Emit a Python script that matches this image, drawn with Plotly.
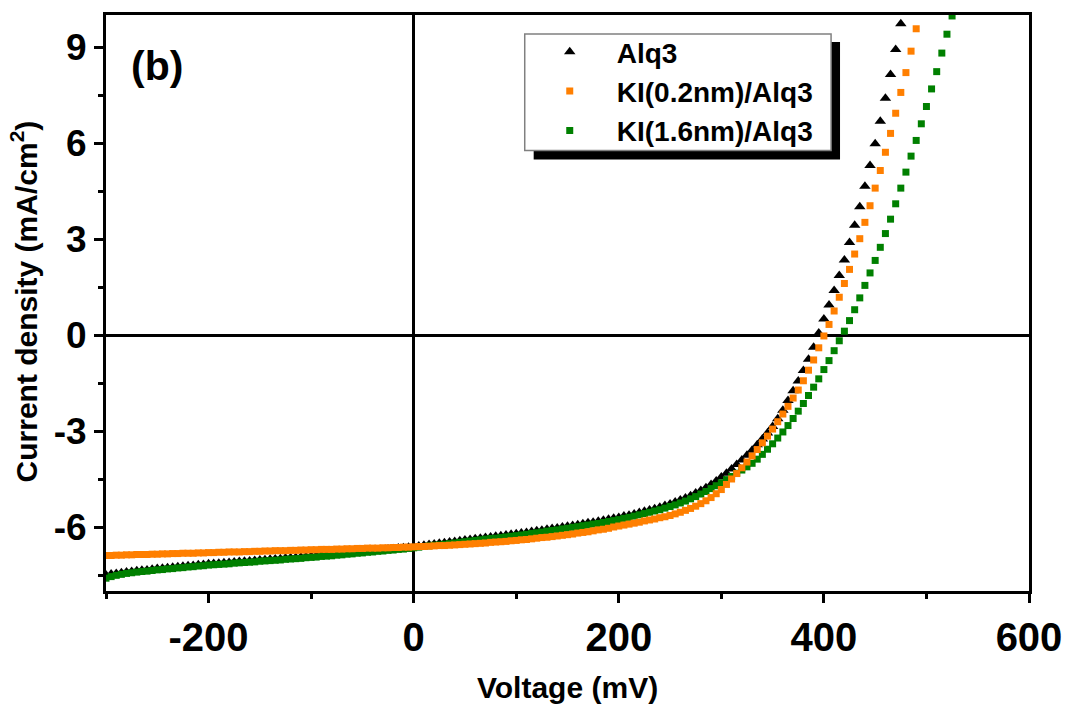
import plotly.graph_objects as go

# ---------------- data ----------------
# voltage sweep in mV (5 mV steps)
V_ALQ3 = list(range(-300, 480, 5))
V_KI02 = list(range(-300, 495, 5))
V_KI16 = list(range(-300, 530, 5))

# current density in mA/cm2
J_ALQ3 = [
    -7.50, -7.47, -7.45, -7.43, -7.41, -7.39, -7.37, -7.35, -7.34, -7.32,   # -300..
    -7.30, -7.29, -7.27, -7.26, -7.24, -7.23, -7.21, -7.20, -7.18, -7.17,   # -250..
    -7.15, -7.14, -7.13, -7.12, -7.11, -7.09, -7.08, -7.07, -7.06, -7.05,   # -200..
    -7.03, -7.02, -7.01, -7.00, -6.99, -6.97, -6.96, -6.95, -6.94, -6.92,   # -150..
    -6.91, -6.90, -6.88, -6.87, -6.86, -6.84, -6.83, -6.81, -6.80, -6.78,   # -100..
    -6.77, -6.75, -6.74, -6.72, -6.71, -6.69, -6.68, -6.66, -6.65, -6.63,   # -50..
    -6.61, -6.59, -6.57, -6.55, -6.53, -6.51, -6.49, -6.47, -6.45, -6.43,   # 0..
    -6.41, -6.39, -6.37, -6.35, -6.33, -6.31, -6.29, -6.27, -6.25, -6.23,   # 50..
    -6.21, -6.19, -6.17, -6.14, -6.12, -6.10, -6.07, -6.05, -6.03, -6.00,   # 100..
    -5.98, -5.95, -5.93, -5.90, -5.87, -5.85, -5.82, -5.79, -5.76, -5.73,   # 150..
    -5.70, -5.66, -5.63, -5.59, -5.55, -5.51, -5.47, -5.43, -5.38, -5.33,   # 200..
    -5.28, -5.22, -5.16, -5.09, -5.02, -4.94, -4.86, -4.77, -4.67, -4.56,   # 250..
    -4.44, -4.32, -4.19, -4.05, -3.91, -3.76, -3.60, -3.43, -3.25, -3.06,   # 300..
    -2.86, -2.62, -2.35, -2.05, -1.74, -1.44, -1.11, -0.76, -0.38, 0.06,    # 350..
    0.50, 0.94, 1.39, 1.86, 2.34, 2.89, 3.43, 4.01, 4.65, 5.30,             # 400..
    5.98, 6.68, 7.40, 8.14, 8.92, 9.73,                                     # 450..475
]

J_KI02 = [
    -6.89, -6.89, -6.88, -6.88, -6.87, -6.87, -6.86, -6.86, -6.86, -6.85,   # -300..
    -6.85, -6.84, -6.84, -6.83, -6.83, -6.82, -6.82, -6.82, -6.81, -6.81,   # -250..
    -6.80, -6.80, -6.79, -6.79, -6.78, -6.78, -6.78, -6.77, -6.77, -6.76,   # -200..
    -6.76, -6.75, -6.75, -6.74, -6.74, -6.74, -6.73, -6.73, -6.72, -6.72,   # -150..
    -6.71, -6.71, -6.70, -6.70, -6.70, -6.69, -6.69, -6.68, -6.68, -6.67,   # -100..
    -6.67, -6.66, -6.66, -6.66, -6.65, -6.65, -6.64, -6.64, -6.63, -6.63,   # -50..
    -6.62, -6.61, -6.61, -6.60, -6.59, -6.58, -6.58, -6.57, -6.56, -6.55,   # 0..
    -6.54, -6.53, -6.52, -6.51, -6.50, -6.48, -6.47, -6.46, -6.45, -6.43,   # 50..
    -6.42, -6.40, -6.39, -6.37, -6.35, -6.33, -6.32, -6.30, -6.28, -6.26,   # 100..
    -6.24, -6.22, -6.19, -6.17, -6.15, -6.12, -6.09, -6.07, -6.04, -6.00,   # 150..
    -5.97, -5.94, -5.91, -5.88, -5.85, -5.81, -5.78, -5.75, -5.71, -5.68,   # 200..
    -5.64, -5.59, -5.54, -5.48, -5.42, -5.35, -5.27, -5.18, -5.08, -4.96,   # 250..
    -4.83, -4.67, -4.50, -4.33, -4.15, -3.97, -3.78, -3.58, -3.37, -3.16,   # 300..
    -2.94, -2.71, -2.47, -2.23, -1.97, -1.72, -1.43, -1.10, -0.78, -0.40,   # 350..
    -0.03, 0.33, 0.75, 1.18, 1.61, 2.05, 2.53, 3.01, 3.52, 4.04,            # 400..
    4.59, 5.14, 5.71, 6.30, 6.93, 7.58, 8.20, 8.87, 9.57,                   # 450..490
]

J_KI16 = [
    -7.60, -7.55, -7.51, -7.48, -7.45, -7.43, -7.41, -7.39, -7.38, -7.36,   # -300..
    -7.34, -7.33, -7.31, -7.30, -7.28, -7.27, -7.25, -7.24, -7.22, -7.21,   # -250..
    -7.19, -7.18, -7.17, -7.16, -7.15, -7.13, -7.12, -7.11, -7.10, -7.09,   # -200..
    -7.07, -7.06, -7.05, -7.04, -7.03, -7.01, -7.00, -6.99, -6.98, -6.96,   # -150..
    -6.95, -6.94, -6.92, -6.91, -6.90, -6.88, -6.87, -6.85, -6.84, -6.82,   # -100..
    -6.81, -6.79, -6.78, -6.76, -6.75, -6.73, -6.72, -6.70, -6.69, -6.67,   # -50..
    -6.65, -6.63, -6.61, -6.59, -6.57, -6.56, -6.54, -6.52, -6.50, -6.48,   # 0..
    -6.46, -6.44, -6.42, -6.40, -6.38, -6.36, -6.35, -6.33, -6.31, -6.29,   # 50..
    -6.27, -6.25, -6.23, -6.20, -6.18, -6.16, -6.13, -6.11, -6.09, -6.06,   # 100..
    -6.04, -6.01, -5.99, -5.96, -5.94, -5.91, -5.89, -5.86, -5.83, -5.80,   # 150..
    -5.77, -5.73, -5.70, -5.66, -5.62, -5.58, -5.54, -5.50, -5.46, -5.41,   # 200..
    -5.36, -5.31, -5.25, -5.19, -5.12, -5.05, -4.97, -4.89, -4.80, -4.71,   # 250..
    -4.62, -4.52, -4.42, -4.32, -4.22, -4.12, -4.01, -3.88, -3.73, -3.57,   # 300..
    -3.40, -3.22, -3.03, -2.83, -2.61, -2.38, -2.14, -1.89, -1.63, -1.37,   # 350..
    -1.08, -0.80, -0.49, -0.18, 0.12, 0.45, 0.79, 1.16, 1.55, 1.94,         # 400..
    2.33, 2.74, 3.17, 3.62, 4.10, 4.59, 5.09, 5.59, 6.08, 6.60,             # 450..
    7.14, 7.69, 8.23, 8.81, 9.40, 9.97,                                     # 500..525
]

SERIES_NAMES = ["Alq3", "KI(0.2nm)/Alq3", "KI(1.6nm)/Alq3"]

X_TICKS = [-200, 0, 200, 400, 600]
X_TICK_LABELS = ["-200", "0", "200", "400", "600"]
X_MINOR = [-300, -100, 100, 300, 500]
Y_TICKS = [-6, -3, 0, 3, 6, 9]
Y_TICK_LABELS = ["-6", "-3", "0", "3", "6", "9"]
Y_MINOR = [-7.5, -4.5, -1.5, 1.5, 4.5, 7.5]

# ---------------- figure ----------------
BOLD = "Liberation Sans, Arial, sans-serif"

fig = go.Figure()
fig.add_trace(go.Scatter(
    x=V_ALQ3, y=J_ALQ3, mode="markers", name=SERIES_NAMES[0], legendrank=1,
    marker=dict(symbol="triangle-up", size=10, color="black", line=dict(width=0)),
))
fig.add_trace(go.Scatter(
    x=V_KI16, y=J_KI16, mode="markers", name=SERIES_NAMES[2], legendrank=3,
    marker=dict(symbol="square", size=7, color="#008000", line=dict(width=0)),
))
fig.add_trace(go.Scatter(
    x=V_KI02, y=J_KI02, mode="markers", name=SERIES_NAMES[1], legendrank=2,
    marker=dict(symbol="square", size=7, color="#FF7F00", line=dict(width=0)),
))

W, H = 1074, 706
L, R, T, B = 106, 40, 13, 115
PW, PH = W - L - R, H - T - B


def px(xp):
    return (xp - L) / PW


def py(yp):
    return (H - B - yp) / PH


axis_common = dict(
    ticks="outside", ticklen=9, tickwidth=3, tickcolor="black",
    showline=True, linewidth=3, linecolor="black", mirror=True,
    showgrid=False, zeroline=True, zerolinecolor="black", zerolinewidth=3,
)

fig.update_layout(
    width=W, height=H,
    margin=dict(l=L, r=R, t=T, b=B),
    plot_bgcolor="white", paper_bgcolor="white",
    xaxis=dict(
        range=[-300, 600], tickmode="array", tickvals=X_TICKS, ticktext=X_TICK_LABELS,
        tickfont=dict(family=BOLD, size=40, color="black", weight="bold"),
        ticklabeloverflow="allow",
        minor=dict(tickmode="array", tickvals=X_MINOR, ticks="outside", ticklen=5,
                   tickwidth=3, tickcolor="black", showgrid=False),
        **axis_common,
    ),
    yaxis=dict(
        range=[-8.0, 10.0], tickmode="array", tickvals=Y_TICKS, ticktext=Y_TICK_LABELS,
        tickfont=dict(family=BOLD, size=37, color="black", weight="bold"),
        minor=dict(tickmode="array", tickvals=Y_MINOR, ticks="outside", ticklen=5,
                   tickwidth=3, tickcolor="black", showgrid=False),
        **axis_common,
    ),
    showlegend=True,
    legend=dict(
        x=px(525), y=py(25), xanchor="left", yanchor="top",
        bgcolor="rgba(0,0,0,0)", borderwidth=0,
        font=dict(family=BOLD, size=28, color="black", weight="bold"),
        itemwidth=84, tracegroupgap=0,
    ),
    shapes=[
        dict(type="rect", xref="paper", yref="paper", layer="above",
             x0=px(536), x1=px(844), y0=py(158), y1=py(40),
             fillcolor="black", line=dict(width=0)),
        dict(type="rect", xref="paper", yref="paper", layer="above",
             x0=px(527), x1=px(835), y0=py(149), y1=py(32),
             fillcolor="white", line=dict(color="#808080", width=1.5)),
    ],
    annotations=[
        dict(text="(b)", x=px(157), y=py(64), xref="paper", yref="paper",
             xanchor="center", yanchor="middle", showarrow=False,
             font=dict(family=BOLD, size=41, color="black", weight="bold")),
        dict(text="Voltage (mV)", x=px(570), y=py(688), xref="paper", yref="paper",
             xanchor="center", yanchor="middle", showarrow=False,
             font=dict(family=BOLD, size=30, color="black", weight="bold")),
        dict(text="Current density (mA/cm<sup>2</sup>)", x=px(24), y=py(300),
             xref="paper", yref="paper", textangle=-90,
             xanchor="center", yanchor="middle", showarrow=False,
             font=dict(family=BOLD, size=30, color="black", weight="bold")),
    ],
)

# remove the browser's default page margin so the 1074x706 figure fills the window
fig.write_html("out.html", config={"displayModeBar": False},
               post_script="document.body.style.margin='0';")
